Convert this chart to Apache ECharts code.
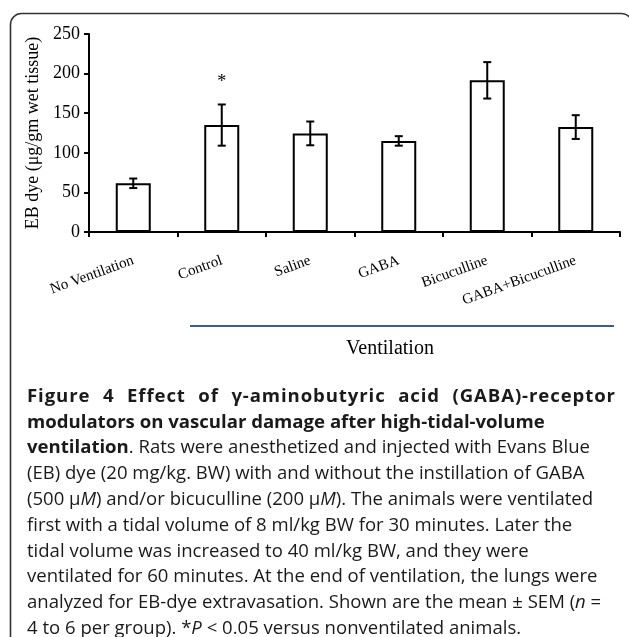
<!DOCTYPE html>
<html><head><meta charset="utf-8">
<script src="https://cdn.jsdelivr.net/npm/echarts@6/dist/echarts.min.js"></script>
<style>html,body{margin:0;padding:0;background:#fff}#c{width:629px;height:637px}</style>
</head><body><div id="c"></div>
<script>
// ---- data ----
const categories = ['No Ventilation', 'Control', 'Saline', 'GABA', 'Bicuculline', 'GABA+Bicuculline'];
const meanValues = [61.5, 135, 124.5, 115, 191.5, 132.5];
const semValues = [6, 26, 15, 6, 23, 15];
const significance = ['', '*', '', '', '', ''];
const yMin = 0, yMax = 250, yInterval = 50;
const yAxisTitle = 'EB dye (\u03bcg/gm wet tissue)';
const groupLabel = 'Ventilation';
// caption: each line is a list of runs [text, style]; r = regular, b = bold, i = italic
const captionLines = [
  [['Figure 4 Effect of \u03b3-aminobutyric acid (GABA)-receptor', 'b']],
  [['modulators on vascular damage after high-tidal-volume', 'b']],
  [['ventilation', 'b'], ['. Rats were anesthetized and injected with Evans Blue', 'r']],
  [['(EB) dye (20 mg/kg. BW) with and without the instillation of GABA', 'r']],
  [['(500 \u03bc', 'r'], ['M', 'i'], [') and/or bicuculline (200 \u03bc', 'r'], ['M', 'i'], ['). The animals were ventilated', 'r']],
  [['first with a tidal volume of 8 ml/kg BW for 30 minutes. Later the', 'r']],
  [['tidal volume was increased to 40 ml/kg BW, and they were', 'r']],
  [['ventilated for 60 minutes. At the end of ventilation, the lungs were', 'r']],
  [['analyzed for EB-dye extravasation. Shown are the mean \u00b1 SEM (', 'r'], ['n', 'i'], [' =', 'r']],
  [['4 to 6 per group). *', 'r'], ['P', 'i'], [' < 0.05 versus nonventilated animals.', 'r']]
];
const justifiedLines = [0];

// ---- layout ----
const serif = 'Liberation Serif';
const sans = 'Open Sans';
const capLeft = 27, capRight = 615, capTop = 387, capStep = 25.8;
const boldFitLine = 1, boldFitRight = 545;
const regFitLine = 7, regFitRight = 598;
const justifyLetterSpacing = 0.9;
let regSize = 16, boldSize = 17;

const mctx = document.createElement('canvas').getContext('2d');
function fontFor(st) {
  if (st === 'b') return 'bold ' + boldSize + 'px "' + sans + '"';
  if (st === 'i') return 'italic ' + regSize + 'px "' + sans + '"';
  return regSize + 'px "' + sans + '"';
}
function measure(t, st) { mctx.font = fontFor(st); return mctx.measureText(t).width; }
function lineWidth(runs) { return runs.reduce((a, [t, st]) => a + measure(t, st), 0); }

function fitSizes() {
  boldSize = boldSize * (boldFitRight - capLeft) / lineWidth(captionLines[boldFitLine]);
  regSize = regSize * (regFitRight - capLeft) / lineWidth(captionLines[regFitLine]);
}

function captionGraphics() {
  fitSizes();
  const out = [];
  const base = {fill: '#1a1a1a', textVerticalAlign: 'alphabetic', verticalAlign: 'alphabetic'};
  captionLines.forEach((runs, li) => {
    const y = capTop + li * capStep;
    if (justifiedLines.includes(li)) {
      const words = [];
      runs.forEach(([t, st]) => t.split(' ').forEach(w => { if (w) words.push([w, st]); }));
      const charAdv = (ch, st) => measure(ch, st) + justifyLetterSpacing;
      const widths = words.map(([w, st]) => [...w].reduce((a, ch) => a + charAdv(ch, st), 0) - justifyLetterSpacing);
      const total = widths.reduce((a, b) => a + b, 0);
      const gap = (capRight - capLeft - total) / (words.length - 1);
      let x = capLeft;
      words.forEach(([w, st], k) => {
        let cx = x;
        for (const ch of w) {
          out.push({type: 'text', x: cx, y: y, style: Object.assign({text: ch, font: fontFor(st)}, base)});
          cx += charAdv(ch, st);
        }
        x += widths[k] + gap;
      });
    } else {
      let x = capLeft;
      runs.forEach(([t, st]) => {
        out.push({type: 'text', x: x, y: y, style: Object.assign({text: t, font: fontFor(st)}, base)});
        x += measure(t, st);
      });
    }
  });
  return out;
}

function build() {
  const chart = echarts.init(document.getElementById('c'), null, {renderer: 'canvas'});
  const option = {
    animation: false,
    backgroundColor: '#fff',
    grid: {left: 89, right: 9, top: 34, bottom: 405, containLabel: false},
    xAxis: {
      type: 'category',
      data: categories,
      axisLine: {lineStyle: {color: '#000', width: 2}},
      axisTick: {show: true, length: 5, lineStyle: {color: '#000', width: 2}},
      axisLabel: {rotate: 20, margin: 28, interval: 0, color: '#000', fontFamily: serif, fontSize: 15}
    },
    yAxis: {
      type: 'value', min: yMin, max: yMax, interval: yInterval,
      name: yAxisTitle, nameLocation: 'middle', nameGap: 46, nameRotate: 90,
      nameTextStyle: {color: '#000', fontFamily: serif, fontSize: 18},
      axisLine: {show: true, lineStyle: {color: '#000', width: 2}},
      axisTick: {show: true, length: 5, lineStyle: {color: '#000', width: 2}},
      axisLabel: {color: '#000', fontFamily: serif, fontSize: 18, margin: 9},
      splitLine: {show: false}
    },
    series: [
      {
        type: 'bar', data: meanValues, barWidth: 35,
        itemStyle: {color: '#fff', borderColor: '#000', borderWidth: 2}
      },
      {
        type: 'custom', z: 10,
        data: categories.map((c, i) => [i, meanValues[i], semValues[i]]),
        renderItem: function (params, api) {
          const i = api.value(0);
          const hi = api.coord([i, api.value(1) + api.value(2)]);
          const lo = api.coord([i, api.value(1) - api.value(2)]);
          const x = hi[0], cap = 4;
          const ls = {stroke: '#000', lineWidth: 2};
          const children = [
            {type: 'line', shape: {x1: x, y1: hi[1], x2: x, y2: lo[1]}, style: ls},
            {type: 'line', shape: {x1: x - cap, y1: hi[1], x2: x + cap, y2: hi[1]}, style: ls},
            {type: 'line', shape: {x1: x - cap, y1: lo[1], x2: x + cap, y2: lo[1]}, style: ls}
          ];
          const s = significance[params.dataIndex];
          if (s) children.push({type: 'text', x: x, y: hi[1] - 22,
            style: {text: s, font: '18px "' + serif + '"', fill: '#000', textAlign: 'center', textVerticalAlign: 'middle', align: 'center', verticalAlign: 'middle'}});
          return {type: 'group', children: children};
        }
      }
    ],
    graphic: [
      {type: 'rect', shape: {x: 10.5, y: 13.5, width: 622, height: 640, r: 11},
        style: {fill: 'none', stroke: '#333', lineWidth: 1.6}, z: -1},
      {type: 'line', shape: {x1: 190, y1: 326, x2: 614, y2: 326},
        style: {stroke: '#3a5e8c', lineWidth: 2.2}},
      {type: 'text', x: 390, y: 349,
        style: {text: groupLabel, font: '20px "' + serif + '"', fill: '#000', textAlign: 'center', textVerticalAlign: 'middle', align: 'center', verticalAlign: 'middle'}}
    ].concat(captionGraphics())
  };
  chart.setOption(option);
}
if (document.fonts && document.fonts.load) {
  Promise.all([
    document.fonts.load('16px "' + sans + '"'),
    document.fonts.load('bold 16px "' + sans + '"'),
    document.fonts.load('italic 16px "' + sans + '"'),
    document.fonts.load('16px "' + serif + '"')
  ]).then(build, build);
} else { build(); }
</script>
</body></html>
